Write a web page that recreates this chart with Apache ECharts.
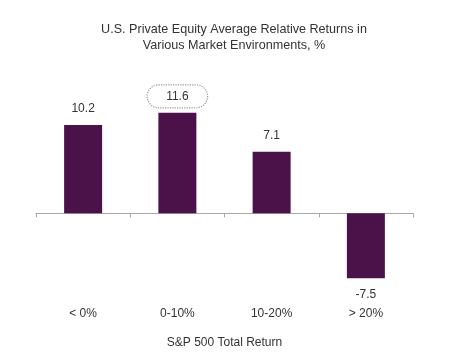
<!DOCTYPE html>
<html><head><meta charset="utf-8">
<script src="https://cdn.jsdelivr.net/npm/echarts@6/dist/echarts.min.js"></script>
<style>html,body{margin:0;padding:0;background:#fff}#c{width:468px;height:357px}</style>
</head><body><div id="c"></div>
<script>
const categories = ['< 0%', '0-10%', '10-20%', '> 20%'];
const values = [10.2, 11.6, 7.1, -7.5];
const highlightIndex = 1;
const titleText = 'U.S. Private Equity Average Relative Returns in\nVarious Market Environments, %';
const xAxisName = 'S&P 500 Total Return';

const font = 'Liberation Sans, Arial, sans-serif';
const chart = echarts.init(document.getElementById('c'));
const data = values.map((v, i) => {
  const d = { value: v };
  if (i === highlightIndex) {
    d.label = {
      borderColor: '#a48fa0', borderWidth: 1.2, borderType: 'dotted',
      borderRadius: 12, padding: [6, 19, 5, 19], distance: 5
    };
  } else if (v < 0) {
    d.label = { position: 'bottom' };
  }
  return d;
});
chart.setOption({
  animation: false,
  backgroundColor: '#fff',
  title: {
    text: titleText, left: 'center', top: 17,
    textStyle: { fontFamily: font, fontSize: 12.6, fontWeight: 'normal', color: '#333', lineHeight: 16 }
  },
  grid: { left: 36, right: 55, top: 92, bottom: 57 },
  xAxis: [
    {
      type: 'category', data: categories,
      axisLine: { onZero: true, lineStyle: { color: '#a8a8a8', width: 1 } },
      axisTick: { show: true, length: 4, lineStyle: { color: '#a8a8a8' } },
      axisLabel: { show: false }
    },
    {
      type: 'category', data: categories, position: 'bottom',
      axisLine: { show: false, onZero: false }, axisTick: { show: false },
      axisLabel: { fontFamily: font, fontSize: 12, color: '#333', margin: 8 },
      name: xAxisName, nameLocation: 'middle', nameGap: 37,
      nameTextStyle: { fontFamily: font, fontSize: 12, color: '#333' }
    }
  ],
  yAxis: { type: 'value', min: -10, max: 14, show: false, splitLine: { show: false } },
  series: [{
    type: 'bar', xAxisIndex: 0, data: data, barWidth: 38,
    itemStyle: { color: '#4a1248' },
    label: {
      show: true, position: 'top', distance: 10,
      fontFamily: font, fontSize: 12, color: '#333'
    }
  }]
});
</script></body></html>
